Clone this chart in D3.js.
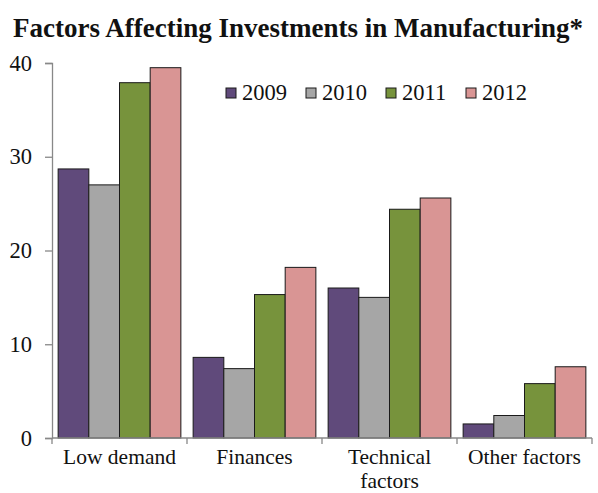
<!DOCTYPE html>
<html>
<head>
<meta charset="utf-8">
<script src="https://cdn.jsdelivr.net/npm/d3@7"></script>
<style>
  html, body { margin: 0; padding: 0; background: #fff; }
  svg { display: block; }
  svg text { font-family: "Liberation Serif", "DejaVu Serif", serif !important; fill: #111; }
</style>
</head>
<body>
<div id="chart"></div>
<script>
// Survey categories and yearly shares (%)
const categories = ["Low demand", "Finances", "Technical factors", "Other factors"];
const categoryLines = [["Low demand"], ["Finances"], ["Technical", "factors"], ["Other factors"]];
const years = ["2009", "2010", "2011", "2012"];
const values2009 = [28.7, 8.6, 16.0, 1.5];
const values2010 = [27.0, 7.4, 15.0, 2.4];
const values2011 = [37.9, 15.3, 24.4, 5.8];
const values2012 = [39.5, 18.2, 25.6, 7.6];
const yTicks = [0, 10, 20, 30, 40];
const colors = ["#604a7b", "#a6a6a6", "#77933c", "#d99594"];
const title = "Factors Affecting Investments in Manufacturing*";

const series = [values2009, values2010, values2011, values2012];

const W = 598, H = 493;
const margin = { left: 52, right: 6, top: 63, bottom: 55 };
const labelSize = "22.5px";
const catSize = "21.5px";

const svg = d3.select("#chart").append("svg")
  .attr("width", W).attr("height", H)
  .attr("font-family", "Liberation Serif, serif");

svg.append("text")
  .attr("x", 298).attr("y", 37)
  .attr("text-anchor", "middle")
  .style("font-weight", "bold")
  .style("font-size", "27px")
  .text(title);

const x0 = d3.scaleBand()
  .domain(categories)
  .range([margin.left, W - margin.right])
  .paddingInner(0).paddingOuter(0);

const x1 = d3.scaleBand()
  .domain(years)
  .range([0, x0.bandwidth()])
  .paddingOuter(0.2);

const y = d3.scaleLinear()
  .domain([0, 40])
  .range([H - margin.bottom, margin.top]);

// bars
const groups = svg.append("g").selectAll("g")
  .data(categories)
  .join("g")
  .attr("transform", d => `translate(${x0(d)},0)`);

groups.selectAll("rect")
  .data((c, ci) => years.map((yr, si) => ({ yr, si, v: series[si][ci] })))
  .join("rect")
  .attr("x", d => x1(d.yr))
  .attr("width", x1.bandwidth())
  .attr("y", d => y(d.v))
  .attr("height", d => y(0) - y(d.v))
  .attr("fill", d => colors[d.si])
  .attr("stroke", "#1a1a1a")
  .attr("stroke-width", 1);

// y axis
const yAxis = svg.append("g")
  .attr("transform", `translate(${margin.left},0)`)
  .call(d3.axisLeft(y).tickValues(yTicks).tickSize(7).tickPadding(13).tickFormat(d3.format("d")));
yAxis.attr("font-family", null).attr("font-size", null);
yAxis.select(".domain").attr("stroke", "#888").attr("stroke-width", 1.3);
yAxis.selectAll(".tick line").attr("stroke", "#888").attr("stroke-width", 1.3);
yAxis.selectAll(".tick text")
  .style("font-size", labelSize)
  .attr("fill", "#111");

// x axis with ticks at category boundaries
const xAxisG = svg.append("g")
  .attr("transform", `translate(0,${y(0)})`);
xAxisG.append("line")
  .attr("x1", margin.left).attr("x2", W - margin.right)
  .attr("stroke", "#888").attr("stroke-width", 1.3);
const bounds = categories.map(c => x0(c)).concat([x0(categories[categories.length - 1]) + x0.bandwidth()]);
xAxisG.selectAll("line.tk")
  .data(bounds)
  .join("line")
  .attr("class", "tk")
  .attr("x1", d => d).attr("x2", d => d)
  .attr("y1", 0).attr("y2", 6)
  .attr("stroke", "#888").attr("stroke-width", 1.3);

const labels = xAxisG.selectAll("text.cat")
  .data(categories)
  .join("text")
  .attr("class", "cat")
  .attr("text-anchor", "middle")
  .attr("x", d => x0(d) + x0.bandwidth() / 2)
  .style("font-size", catSize);
labels.each(function (d, i) {
  d3.select(this).selectAll("tspan")
    .data(categoryLines[i])
    .join("tspan")
    .attr("x", x0(d) + x0.bandwidth() / 2)
    .attr("y", (t, j) => 26 + j * 24)
    .text(t => t);
});

// legend
const legend = svg.append("g").attr("transform", "translate(226,88)");
const items = legend.selectAll("g")
  .data(years)
  .join("g")
  .attr("transform", (d, i) => `translate(${i * 80},0)`);
items.append("rect")
  .attr("width", 10).attr("height", 10)
  .attr("fill", (d, i) => colors[i])
  .attr("stroke", "#1a1a1a").attr("stroke-width", 1);
items.append("text")
  .attr("x", 16).attr("y", 12)
  .style("font-size", labelSize)
  .text(d => d);
</script>
</body>
</html>
